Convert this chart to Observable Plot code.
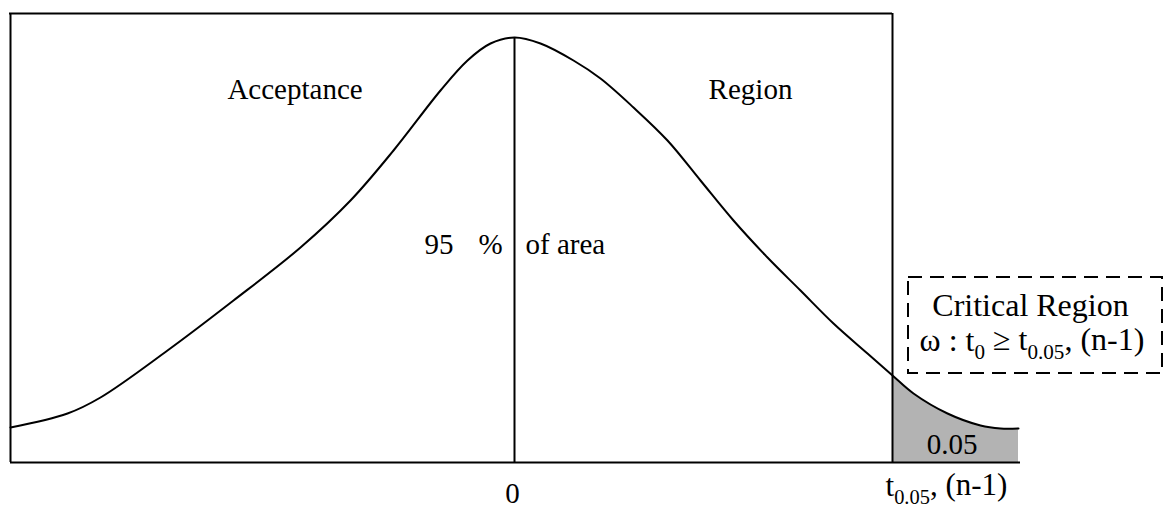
<!DOCTYPE html>
<html>
<head>
<meta charset="utf-8">
<script src="https://cdn.jsdelivr.net/npm/d3@7"></script>
<script src="https://cdn.jsdelivr.net/npm/@observablehq/plot@0.6"></script>
<style>
  html, body { margin: 0; padding: 0; background: #fff; }
  #chart svg { display: block; }
</style>
</head>
<body>
<div id="chart"></div>
<script>
// ---- data (t-scale units on x, density units on y) ----
const curveX = [-5.04, -4.47, -4.14, -3.47, -2.81, -2.14, -1.64, -1.21, -0.74, -0.47, -0.24, 0,
                0.26, 0.59, 0.86, 1.19, 1.53, 1.86, 2.19, 2.53, 2.86, 3.19, 3.53, 3.78,
                3.99, 4.33, 4.66, 4.86, 5.04];
const curveY = [0.035, 0.049, 0.065, 0.112, 0.162, 0.215, 0.262, 0.312, 0.372, 0.402, 0.419, 0.425,
                0.419, 0.402, 0.384, 0.355, 0.322, 0.282, 0.242, 0.205, 0.172, 0.139, 0.109, 0.087,
                0.069, 0.049, 0.037, 0.034, 0.034];

const leftX = -5.04;      // left edge of the acceptance frame
const critX = 3.78;       // t_0.05,(n-1)
const axisEnd = 5.06;     // right end of the base line
const frameTop = 0.449;   // top of the acceptance frame
const peakY = 0.425;

const alpha = 0.05;
const crit = {x1: 3.94, x2: 6.48, y1: 0.089, y2: 0.185};   // dashed "critical region" box

const labels = [
  {x: -2.195, y: 0.364, text: "Acceptance", anchor: "middle", size: 29},
  {x: 2.36,   y: 0.364, text: "Region",     anchor: "middle", size: 29},
  {x: -0.61,  y: 0.209, text: "95",         anchor: "end",    size: 29},
  {x: -0.36,  y: 0.209, text: "%",          anchor: "start",  size: 29},
  {x: 0.11,   y: 0.209, text: "of area",    anchor: "start",  size: 29},
  {x: 4.375,  y: 0.009, text: String(alpha), anchor: "middle", size: 29},
  {x: 5.16,   y: 0.147, text: "Critical Region", anchor: "middle", size: 32},
  {x: 5.175,  y: 0.112, text: "ω : t_{0} ≥ t_{0.05}, (n-1)", anchor: "middle", size: 32}
];
const tickLabels = [
  {x: -0.02, y: -0.040, text: "0", anchor: "middle", size: 29},
  {x: 3.71,  y: -0.033, text: "t_{0.05}, (n-1)", anchor: "start", size: 31}
];

// ---- build ----
const curve = curveX.map((x, i) => ({x, y: curveY[i]}));
const tail = curve.filter(d => d.x >= critX);
const font = "Liberation Serif, Times New Roman, serif";

const textMarks = (data) => ["start", "middle", "end"].map(a =>
  Plot.text(data.filter(d => d.anchor === a), {
    x: "x", y: "y", text: "text", textAnchor: a, lineAnchor: "bottom",
    fontSize: "size", fill: "#000", fontFamily: font
  }));

const chart = Plot.plot({
  width: 1166,
  height: 507,
  marginLeft: 10,
  marginRight: 0,
  marginTop: 0,
  marginBottom: 45,
  x: {domain: [-5.04, 6.52], axis: null},
  y: {domain: [0, 0.462], axis: null},
  style: {background: "#fff", fontFamily: font},
  marks: [
    Plot.areaY(tail, {x: "x", y: "y", fill: "#b3b3b3", curve: "catmull-rom"}),
    Plot.line(curve, {x: "x", y: "y", stroke: "#000", strokeWidth: 2, curve: "catmull-rom"}),
    // frame
    Plot.ruleY([frameTop], {x1: leftX - 0.01, x2: critX, stroke: "#000", strokeWidth: 2}),
    Plot.ruleX([leftX, critX], {y1: 0, y2: frameTop, stroke: "#000", strokeWidth: 2}),
    Plot.ruleY([0], {x1: leftX, x2: axisEnd, stroke: "#000", strokeWidth: 2}),
    Plot.ruleX([0], {y1: 0, y2: peakY, stroke: "#000", strokeWidth: 2}),
    // dashed critical-region box
    Plot.rect([crit], {x1: "x1", x2: "x2", y1: "y1", y2: "y2", fill: "none", stroke: "#000",
                       strokeWidth: 2, strokeDasharray: "14,8"}),
    ...textMarks(labels),
    ...textMarks(tickLabels)
  ]
});

// turn "_{...}" markup into subscript tspans
d3.select(chart).selectAll("text").each(function() {
  const s = this.textContent;
  if (!s.includes("_{")) return;
  const parts = s.split(/(_\{[^}]*\})/).filter(p => p.length);
  this.textContent = "";
  let inSub = false;
  for (const p of parts) {
    const m = p.match(/^_\{(.*)\}$/);
    const t = d3.select(this).append("tspan");
    if (m) {
      t.text(m[1]).attr("font-size", "0.66em").attr("dy", "0.42em");
      inSub = true;
    } else {
      t.text(p);
      if (inSub) { t.attr("dy", "-0.28em"); inSub = false; }
    }
  }
});

document.getElementById("chart").appendChild(chart);
</script>
</body>
</html>
